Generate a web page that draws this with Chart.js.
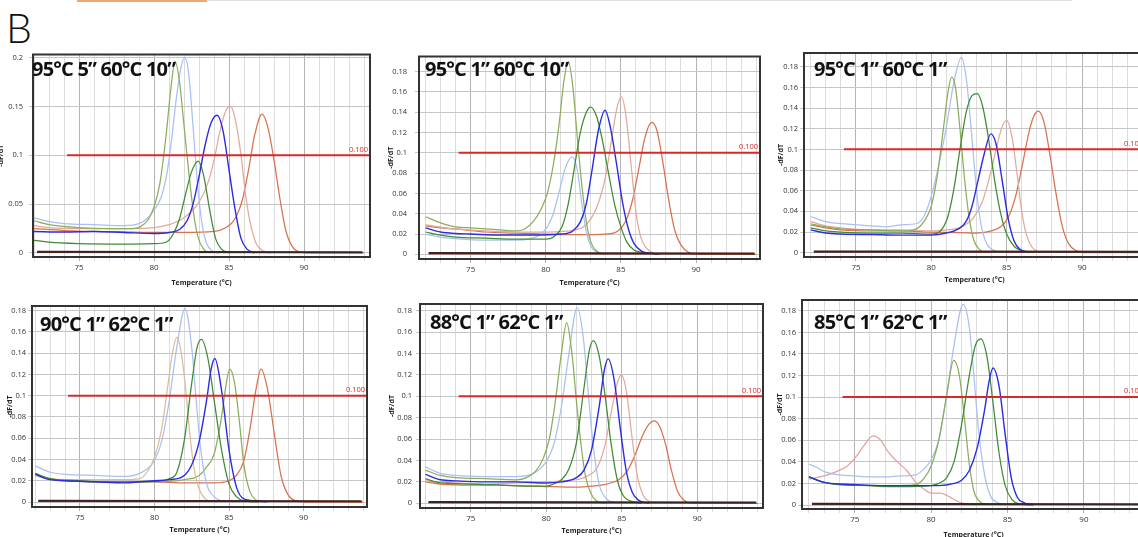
<!DOCTYPE html>
<html>
<head>
<meta charset="utf-8">
<script src="https://cdn.jsdelivr.net/npm/chart.js@4.4.0/dist/chart.umd.min.js"></script>
<style>
  body { margin: 0; width: 1138px; height: 537px; overflow: hidden; position: relative; background: #fff; font-family: "Open Sans", sans-serif; }
  canvas { position: absolute; }
  .bar-orange { position: absolute; left: 77px; top: 0; width: 130px; height: 2px; background: #eaa877; }
  .bar-grey { position: absolute; left: 207px; top: 0; width: 865px; height: 1px; background: #e2e2e2; }
  .letter { position: absolute; left: 6px; top: 7px; font-family: Lato, sans-serif; font-weight: 300; font-size: 41px; line-height: 1; color: #111; }
  .cond { position: absolute; font-weight: 700; font-size: 20px; line-height: 1; color: #111; white-space: nowrap; letter-spacing: -0.8px; z-index: 2; }
</style>
</head>
<body>
<div class="bar-orange"></div>
<div class="bar-grey"></div>
<div class="letter">B</div>

<script>
// TEXTOS E EIXOS
const conditions = ['95°C 5” 60°C 10”', '95°C 1” 60°C 10”', '95°C 1” 60°C 1”', '90°C 1” 62°C 1”', '88°C 1” 62°C 1”', '85°C 1” 62°C 1”'];
const xTickLabels = [75, 80, 85, 90];
const yTicksFirst = [0, 0.05, 0.1, 0.15, 0.2];
const yTicksOther = [0, 0.02, 0.04, 0.06, 0.08, 0.1, 0.12, 0.14, 0.16, 0.18];
const threshold = 0.1;
const thresholdStart = 74.2;
const thresholdLabel = '0.100';

// CURVAS DE MELTING  [temperatura, -dF/dT]
const baselineDark = [[72.2, 0.0012], [93.9, 0.0008]];
const baselineRed = [[72.2, 0.0004], [93.9, 0.0003]];

// painel 1 - 95°C 5" 60°C 10"
const p1Olive = [[72,0.033],[73,0.029],[75,0.026],[77,0.025],[78.5,0.025],[79.1,0.027],[79.6,0.034],[80,0.047],[80.4,0.072],[80.8,0.12],[81.1,0.165],[81.4,0.196],[81.7,0.175],[82,0.13],[82.3,0.085],[82.6,0.045],[82.9,0.018],[83.3,0.004],[83.8,0]];
const p1LightBlue = [[72,0.036],[73,0.032],[74,0.03],[76,0.029],[78,0.028],[79,0.03],[79.6,0.036],[80,0.044],[80.5,0.058],[80.9,0.085],[81.2,0.12],[81.5,0.16],[81.8,0.19],[82.05,0.2],[82.3,0.185],[82.6,0.13],[82.9,0.07],[83.2,0.03],[83.5,0.01],[83.9,0.002],[84.3,0]];
const p1DarkGreen = [[72,0.013],[73,0.011],[75,0.0095],[78,0.009],[80,0.0095],[80.8,0.011],[81.3,0.02],[81.7,0.035],[82.1,0.06],[82.5,0.083],[82.95,0.094],[83.3,0.08],[83.7,0.045],[84.1,0.015],[84.5,0.004],[85,0]];
const p1Blue = [[72,0.022],[74,0.0215],[76,0.022],[78,0.021],[80,0.02],[81,0.021],[81.7,0.024],[82.2,0.033],[82.6,0.05],[83,0.078],[83.4,0.11],[83.8,0.133],[84.2,0.141],[84.6,0.125],[85,0.085],[85.4,0.045],[85.8,0.015],[86.2,0.004],[86.7,0]];
const p1Salmon = [[72,0.028],[73,0.026],[75,0.025],[78,0.025],[80,0.026],[81,0.029],[82,0.036],[83,0.052],[83.6,0.072],[84,0.095],[84.4,0.125],[84.8,0.146],[85.1,0.15],[85.4,0.138],[85.8,0.1],[86.1,0.06],[86.4,0.032],[86.8,0.01],[87.3,0.002],[87.8,0]];
const p1Orange = [[72,0.025],[74,0.023],[76,0.022],[78,0.0215],[80,0.021],[82,0.021],[84,0.022],[84.8,0.026],[85.4,0.035],[85.9,0.055],[86.3,0.085],[86.7,0.12],[87.2,0.142],[87.6,0.128],[88,0.095],[88.4,0.055],[88.8,0.022],[89.2,0.007],[89.7,0.001],[90.5,0],[94,0]];

// painel 2 - 95°C 1" 60°C 10"
const p2Olive = [[72,0.037],[73,0.031],[74,0.027],[75,0.026],[76,0.025],[77,0.024],[78,0.023],[78.6,0.025],[79.2,0.033],[79.7,0.045],[80.1,0.06],[80.5,0.088],[80.9,0.13],[81.2,0.17],[81.5,0.19],[81.8,0.165],[82.1,0.115],[82.4,0.068],[82.7,0.032],[83,0.012],[83.4,0.003],[83.9,0]];
const p2LightBlue = [[72,0.02],[73,0.017],[74,0.0155],[76,0.014],[78,0.014],[79,0.0155],[79.6,0.019],[80.1,0.027],[80.5,0.04],[80.9,0.062],[81.3,0.085],[81.75,0.096],[82.1,0.083],[82.4,0.05],[82.7,0.022],[83,0.008],[83.4,0.002],[83.9,0]];
const p2DarkGreen = [[72,0.022],[73,0.019],[74,0.017],[76,0.016],[78,0.015],[80,0.015],[80.6,0.018],[81.1,0.028],[81.5,0.05],[81.9,0.085],[82.3,0.12],[82.7,0.14],[83,0.145],[83.4,0.135],[83.8,0.11],[84.2,0.078],[84.6,0.048],[85,0.027],[85.4,0.012],[85.9,0.004],[86.5,0.002],[87.5,0]];
const p2Blue = [[72,0.026],[73,0.022],[74,0.0205],[75,0.02],[77,0.019],[79,0.019],[81,0.02],[81.8,0.023],[82.3,0.032],[82.7,0.05],[83.1,0.085],[83.5,0.122],[83.95,0.142],[84.3,0.125],[84.7,0.09],[85.1,0.052],[85.5,0.025],[85.9,0.01],[86.4,0.003],[87,0.001],[87.5,0]];
const p2Salmon = [[72,0.029],[74,0.025],[76,0.023],[78,0.022],[80,0.022],[82,0.024],[83,0.035],[83.6,0.055],[84,0.078],[84.4,0.115],[84.75,0.145],[85.05,0.155],[85.35,0.135],[85.7,0.085],[86,0.042],[86.3,0.018],[86.7,0.006],[87.2,0.001],[87.7,0]];
const p2Orange = [[72,0.028],[73,0.026],[74,0.025],[76,0.022],[78,0.021],[80,0.02],[82,0.0195],[84,0.02],[84.8,0.023],[85.3,0.032],[85.8,0.055],[86.2,0.085],[86.6,0.115],[87.05,0.13],[87.4,0.122],[87.8,0.09],[88.2,0.052],[88.6,0.023],[89,0.009],[89.5,0.002],[90.2,0],[94,0]];

// painel 3 - 95°C 1" 60°C 1"
const p3Olive = [[72,0.028],[73,0.025],[74,0.023],[76,0.022],[78,0.021],[79,0.023],[79.5,0.03],[80,0.045],[80.4,0.075],[80.8,0.12],[81.1,0.155],[81.35,0.17],[81.6,0.16],[81.9,0.12],[82.2,0.072],[82.5,0.035],[82.8,0.013],[83.2,0.003],[83.7,0]];
const p3LightBlue = [[72,0.035],[73,0.03],[74,0.028],[75,0.027],[76,0.026],[77,0.025],[78,0.027],[79,0.028],[79.5,0.035],[80,0.055],[80.5,0.085],[81,0.122],[81.5,0.165],[82,0.189],[82.35,0.165],[82.7,0.11],[83,0.06],[83.3,0.027],[83.7,0.008],[84.2,0.002],[84.7,0]];
const p3DarkGreen = [[72,0.024],[73,0.021],[74,0.02],[76,0.019],[78,0.019],[80,0.018],[80.6,0.021],[81.1,0.035],[81.5,0.062],[81.9,0.1],[82.3,0.135],[82.7,0.152],[83.05,0.154],[83.4,0.142],[83.8,0.11],[84.2,0.07],[84.6,0.038],[85,0.018],[85.5,0.006],[86,0.002],[86.8,0]];
const p3Blue = [[72,0.022],[73,0.019],[74,0.018],[76,0.0175],[78,0.017],[80,0.017],[81,0.019],[81.8,0.023],[82.3,0.03],[82.7,0.045],[83.1,0.07],[83.5,0.095],[83.95,0.115],[84.3,0.105],[84.7,0.07],[85.1,0.033],[85.5,0.011],[85.9,0.003],[86.5,0]];
const p3Salmon = [[72,0.03],[73,0.026],[74,0.024],[76,0.022],[78,0.022],[80,0.021],[81,0.022],[82,0.025],[82.8,0.034],[83.4,0.05],[83.9,0.075],[84.3,0.1],[84.7,0.122],[85,0.128],[85.35,0.112],[85.7,0.075],[86,0.04],[86.3,0.018],[86.7,0.005],[87.2,0]];
const p3Orange = [[72,0.027],[73,0.024],[74,0.022],[76,0.021],[78,0.021],[80,0.02],[82,0.0195],[83,0.019],[84,0.021],[84.6,0.025],[85.1,0.034],[85.6,0.055],[86,0.082],[86.5,0.118],[86.8,0.132],[87.1,0.137],[87.5,0.125],[87.9,0.092],[88.3,0.055],[88.7,0.025],[89.1,0.009],[89.6,0.002],[90.3,0],[94,0]];

// painel 4 - 90°C 1" 62°C 1"
const p4Tan = [[72,0.025],[73,0.022],[74,0.021],[76,0.021],[78,0.021],[79,0.022],[79.5,0.028],[80,0.042],[80.5,0.07],[80.9,0.11],[81.2,0.14],[81.5,0.155],[81.8,0.14],[82.1,0.105],[82.4,0.06],[82.7,0.028],[83,0.012],[83.4,0.003],[84,0]];
const p4LightBlue = [[72,0.034],[73,0.028],[74,0.026],[76,0.025],[78,0.024],[79,0.027],[79.5,0.031],[80,0.039],[80.5,0.058],[81,0.096],[81.5,0.146],[82.05,0.182],[82.5,0.145],[82.8,0.095],[83.1,0.05],[83.5,0.017],[84,0.005],[84.5,0.001],[85,0]];
const p4DarkGreen = [[72,0.027],[73,0.022],[75,0.02],[77,0.019],[79,0.019],[80.5,0.02],[81,0.022],[81.5,0.028],[82,0.058],[82.5,0.112],[82.85,0.145],[83.15,0.153],[83.6,0.134],[84,0.096],[84.5,0.049],[85,0.017],[85.5,0.005],[86,0.001],[87,0]];
const p4Blue = [[72,0.026],[73,0.021],[74,0.02],[76,0.019],[78,0.018],[79,0.019],[80,0.02],[81,0.021],[82,0.025],[82.5,0.035],[83,0.057],[83.5,0.096],[83.8,0.125],[84.05,0.135],[84.5,0.105],[85,0.049],[85.5,0.014],[86,0.003],[87,0.001],[87.5,0]];
const p4Olive = [[72,0.025],[73,0.021],[74,0.02],[76,0.019],[78,0.019],[80,0.019],[82,0.021],[83,0.025],[83.5,0.033],[84,0.045],[84.5,0.08],[84.8,0.11],[85.05,0.125],[85.4,0.11],[85.7,0.075],[86,0.035],[86.4,0.01],[86.8,0.002],[87.3,0]];
const p4Orange = [[72,0.026],[73,0.022],[74,0.02],[76,0.019],[78,0.019],[80,0.019],[82,0.018],[84,0.018],[85,0.02],[85.5,0.025],[86,0.039],[86.4,0.068],[86.8,0.105],[87.15,0.125],[87.6,0.105],[88,0.068],[88.5,0.024],[89,0.006],[89.5,0.001],[90.2,0],[94,0]];

// painel 5 - 88°C 1" 62°C 1"
const p5Olive = [[72,0.031],[73,0.026],[74,0.024],[76,0.023],[78,0.022],[78.7,0.024],[79.3,0.03],[79.8,0.042],[80.2,0.06],[80.6,0.095],[81,0.14],[81.35,0.169],[81.7,0.14],[82,0.095],[82.3,0.055],[82.6,0.025],[83,0.008],[83.5,0.001],[84,0]];
const p5LightBlue = [[72,0.034],[73,0.028],[74,0.026],[76,0.025],[78,0.025],[79,0.027],[79.5,0.031],[80,0.039],[80.5,0.055],[81,0.09],[81.5,0.14],[82.05,0.183],[82.45,0.155],[82.8,0.1],[83.1,0.055],[83.5,0.018],[84,0.004],[84.5,0.001],[85,0]];
const p5DarkGreen = [[72,0.023],[73,0.019],[75,0.018],[77,0.017],[79,0.016],[80,0.016],[80.5,0.018],[81,0.022],[81.5,0.032],[82,0.057],[82.5,0.108],[82.85,0.143],[83.12,0.152],[83.5,0.138],[83.9,0.1],[84.3,0.055],[84.7,0.022],[85.1,0.007],[85.6,0.002],[86.3,0]];
const p5Blue = [[72,0.027],[73,0.022],[74,0.021],[76,0.02],[78,0.02],[80,0.019],[81,0.02],[82,0.024],[82.5,0.031],[83,0.05],[83.5,0.09],[83.85,0.125],[84.1,0.135],[84.5,0.115],[84.9,0.07],[85.3,0.03],[85.7,0.01],[86.1,0.003],[86.8,0]];
const p5Salmon = [[72,0.021],[74,0.019],[76,0.018],[78,0.019],[80,0.02],[81,0.021],[82,0.022],[82.8,0.026],[83.4,0.034],[83.9,0.055],[84.3,0.085],[84.7,0.112],[84.97,0.12],[85.3,0.105],[85.65,0.065],[86,0.028],[86.4,0.008],[86.8,0.002],[87.3,0]];
const p5Orange = [[72,0.02],[73,0.018],[75,0.017],[77,0.017],[79,0.016],[80.5,0.0155],[82,0.015],[83,0.016],[84,0.018],[84.8,0.022],[85.4,0.031],[85.9,0.046],[86.4,0.064],[86.8,0.074],[87.15,0.077],[87.5,0.072],[87.9,0.055],[88.3,0.03],[88.7,0.011],[89.1,0.003],[89.6,0],[94,0]];

// painel 6 - 85°C 1" 62°C 1"
const p6Pink = [[72,0.024],[73,0.027],[73.8,0.031],[74.5,0.036],[75.1,0.045],[75.6,0.055],[76.2,0.064],[76.7,0.06],[77.2,0.049],[77.8,0.04],[78.4,0.032],[79,0.021],[79.5,0.015],[80,0.011],[80.6,0.011],[81,0.009],[81.4,0.006],[81.8,0.003],[82.3,0.001],[83,0]];
const p6LightBlue = [[72,0.038],[72.5,0.035],[73,0.031],[74,0.028],[75,0.027],[76,0.026],[77,0.026],[78,0.027],[79,0.028],[79.5,0.033],[80,0.042],[80.5,0.06],[81,0.1],[81.5,0.148],[82.1,0.186],[82.5,0.165],[82.8,0.12],[83.1,0.07],[83.5,0.028],[83.9,0.008],[84.4,0.002],[85,0]];
const p6Olive = [[72,0.026],[73,0.021],[74,0.019],[76,0.018],[77,0.017],[78,0.018],[79,0.019],[79.5,0.024],[80,0.036],[80.5,0.06],[81,0.1],[81.48,0.134],[81.85,0.12],[82.2,0.078],[82.5,0.038],[82.8,0.013],[83.2,0.003],[83.7,0]];
const p6DarkGreen = [[72,0.026],[73,0.021],[74,0.019],[76,0.018],[78,0.017],[80,0.018],[80.5,0.02],[81,0.025],[81.5,0.04],[82,0.075],[82.5,0.12],[82.9,0.148],[83.25,0.154],[83.65,0.138],[84.05,0.095],[84.45,0.048],[84.85,0.018],[85.3,0.005],[85.8,0.001],[86.5,0]];
const p6Blue = [[72,0.026],[73,0.021],[75,0.019],[77,0.018],[79,0.018],[80.5,0.018],[81.5,0.02],[82,0.023],[82.5,0.032],[83,0.052],[83.5,0.088],[83.8,0.115],[84.05,0.127],[84.45,0.11],[84.85,0.065],[85.25,0.025],[85.65,0.007],[86.1,0.002],[86.7,0]];

const panelCurves = [
  [['blue', p1Blue], ['darkGreen', p1DarkGreen], ['olive', p1Olive], ['lightBlue', p1LightBlue], ['salmon', p1Salmon], ['orange', p1Orange]],
  [['blue', p2Blue], ['darkGreen', p2DarkGreen], ['olive', p2Olive], ['lightBlue', p2LightBlue], ['salmon', p2Salmon], ['orange', p2Orange]],
  [['blue', p3Blue], ['darkGreen', p3DarkGreen], ['olive', p3Olive], ['lightBlue', p3LightBlue], ['salmon', p3Salmon], ['orange', p3Orange]],
  [['blue', p4Blue], ['darkGreen', p4DarkGreen], ['tan', p4Tan], ['lightBlue', p4LightBlue], ['olive', p4Olive], ['orange', p4Orange]],
  [['blue', p5Blue], ['darkGreen', p5DarkGreen], ['olive', p5Olive], ['lightBlue', p5LightBlue], ['salmon', p5Salmon], ['orange', p5Orange]],
  [['blue', p6Blue], ['darkGreen', p6DarkGreen], ['olive', p6Olive], ['lightBlue', p6LightBlue], ['pink', p6Pink]]
];

// CORES
const curveColors = {
  olive: '#8cad5c',
  lightBlue: '#a9c0f0',
  darkGreen: '#3f8c35',
  blue: '#2b2be6',
  salmon: '#e3a99b',
  orange: '#d8714e',
  tan: '#d9bd9c',
  pink: '#e6a0a0'
};

// POSICAO DE CADA GRAFICO (canvas + limites dos eixos)
const layout = [
  { left: -3, top: 44, w: 379, h: 245, yW: 36, xH: 32, xMin: 71.93, xMax: 94.4, yMin: -0.0041, yMax: 0.2031, tickGap: 10, titleX: 32, titleY: 59 },
  { left: 387, top: 44, w: 379, h: 245, yW: 32, xH: 30, xMin: 71.56, xMax: 94.26, yMin: -0.0046, yMax: 0.1949, tickGap: 12, titleX: 425, titleY: 59 },
  { left: 777, top: 43, w: 374, h: 243, yW: 27, xH: 29, xMin: 71.55, xMax: 94.18, yMin: -0.0042, yMax: 0.1933, tickGap: 6, titleX: 814, titleY: 59 },
  { left: 6, top: 296, w: 367, h: 240, yW: 26, xH: 29, xMin: 71.78, xMax: 94.26, yMin: -0.0047, yMax: 0.1844, tickGap: 6, titleX: 40, titleY: 314 },
  { left: 388, top: 294, w: 381, h: 243, yW: 32, xH: 29, xMin: 71.64, xMax: 94.35, yMin: -0.0044, yMax: 0.1863, tickGap: 8, titleX: 430, titleY: 312 },
  { left: 776, top: 290, w: 375, h: 251, yW: 26, xH: 32, xMin: 71.55, xMax: 94.0, yMin: -0.0037, yMax: 0.19, tickGap: 6, titleX: 814, titleY: 312 }
];

const gridTemps = [];
for (let t = 72; t <= 94; t++) gridTemps.push(t);

const toXY = pts => pts.map(p => ({ x: p[0], y: p[1] }));

// moldura e rótulo do threshold
const framePlugin = {
  id: 'frame',
  afterDatasetsDraw(chart) {
    const { ctx, chartArea: a, scales } = chart;
    ctx.save();
    ctx.fillStyle = '#d42a2a';
    ctx.font = '7.5px "Open Sans"';
    ctx.textAlign = 'right';
    ctx.textBaseline = 'bottom';
    ctx.fillText(thresholdLabel, a.right - 2, scales.y.getPixelForValue(threshold) - 2);
    ctx.strokeStyle = '#333';
    ctx.lineWidth = 2;
    ctx.strokeRect(a.left, a.top, a.right - a.left, a.bottom - a.top);
    ctx.restore();
  }
};

function makePanel(i) {
  const L = layout[i];
  const canvas = document.createElement('canvas');
  canvas.width = L.w;
  canvas.height = L.h;
  canvas.style.left = L.left + 'px';
  canvas.style.top = L.top + 'px';
  document.body.appendChild(canvas);

  const title = document.createElement('div');
  title.className = 'cond';
  title.textContent = conditions[i];
  title.style.left = L.titleX + 'px';
  title.style.top = L.titleY + 'px';
  document.body.appendChild(title);

  const yTicks = i === 0 ? yTicksFirst : yTicksOther;

  const datasets = [
    { data: [{ x: thresholdStart, y: threshold }, { x: 96, y: threshold }], borderColor: '#d42a2a', borderWidth: 2, cubicInterpolationMode: 'default', tension: 0 },
    { data: toXY(baselineDark), borderColor: '#3a2424', borderWidth: 2 },
    { data: toXY(baselineRed), borderColor: '#8a3020', borderWidth: 1 }
  ];
  panelCurves[i].forEach(([key, pts]) => {
    datasets.push({ data: toXY(pts), borderColor: curveColors[key], borderWidth: key === 'blue' ? 1.4 : 1.25 });
  });

  new Chart(canvas, {
    type: 'line',
    data: { datasets },
    plugins: [framePlugin],
    options: {
      responsive: false,
      animation: false,
      layout: { padding: { top: 10, right: 6, left: 0, bottom: 0 } },
      plugins: { legend: { display: false }, tooltip: { enabled: false } },
      elements: {
        point: { radius: 0 },
        line: { cubicInterpolationMode: 'monotone', fill: false }
      },
      scales: {
        x: {
          type: 'linear',
          min: L.xMin,
          max: L.xMax,
          afterFit: s => { s.height = L.xH; },
          afterBuildTicks: s => { s.ticks = gridTemps.map(v => ({ value: v })); },
          ticks: {
            autoSkip: false,
            maxRotation: 0,
            padding: 2,
            color: '#333',
            font: { family: 'Open Sans', size: 8 },
            callback: v => xTickLabels.includes(v) ? String(v) : ''
          },
          grid: {
            tickLength: 4,
            color: c => (c.tick && xTickLabels.includes(c.tick.value)) ? '#b4b4b4' : '#dcdcdc'
          },
          border: { display: false },
          title: {
            display: true,
            text: 'Temperature (°C)',
            color: '#222',
            font: { family: 'Open Sans', size: 7, weight: 'bold' },
            padding: { top: 0, bottom: 2 }
          }
        },
        y: {
          min: L.yMin,
          max: L.yMax,
          afterFit: s => { s.width = L.yW; },
          afterBuildTicks: s => { s.ticks = yTicks.map(v => ({ value: v })); },
          ticks: {
            padding: L.tickGap - 4,
            color: '#333',
            font: { family: 'Open Sans', size: 7.5 },
            callback: v => String(v)
          },
          grid: { tickLength: 4, color: '#c6c6c6' },
          border: { display: false },
          title: {
            display: true,
            text: '-dF/dT',
            color: '#222',
            font: { family: 'Open Sans', size: 7, weight: 'bold' },
            padding: { top: 0, bottom: 0 }
          }
        }
      }
    }
  });
}

for (let i = 0; i < layout.length; i++) makePanel(i);
</script>
</body>
</html>
